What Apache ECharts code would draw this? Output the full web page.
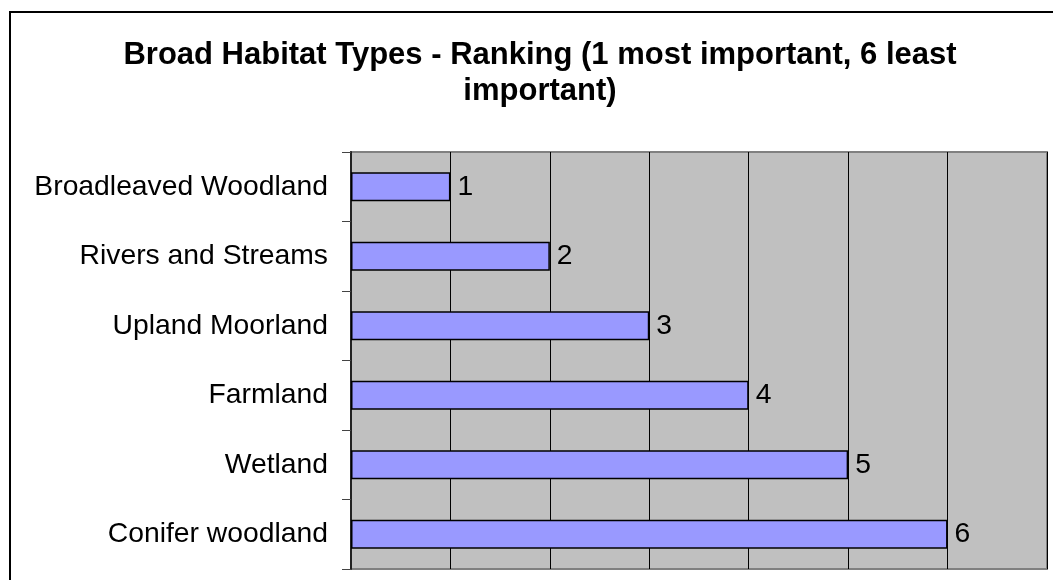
<!DOCTYPE html>
<html>
<head>
<meta charset="utf-8">
<script src="https://cdn.jsdelivr.net/npm/echarts@6/dist/echarts.min.js"></script>
<style>
  html, body { margin: 0; padding: 0; background: #fff; }
  #chart { width: 1053px; height: 580px; }
</style>
</head>
<body>
<div id="chart"></div>
<script>
var habitats = ['Broadleaved Woodland', 'Rivers and Streams', 'Upland Moorland', 'Farmland', 'Wetland', 'Conifer woodland'];
var ranks = [1, 2, 3, 4, 5, 6];

var chart = echarts.init(document.getElementById('chart'));

var option = {
    animation: false,
    title: {
        text: 'Broad Habitat Types - Ranking (1 most important, 6 least\nimportant)',
        left: 535,
        top: 32,
        textAlign: 'center',
        textStyle: {
            fontFamily: 'Liberation Sans',
            fontSize: 31,
            fontWeight: 'bold',
            color: '#000',
            lineHeight: 36
        }
    },
    graphic: [
        {
            type: 'rect',
            shape: { x: 10, y: 12, width: 1070, height: 600 },
            style: { fill: null, stroke: '#000', lineWidth: 2 },
            silent: true
        }
    ],
    grid: {
        left: 351,
        top: 152,
        right: 6,
        bottom: 11,
        show: true,
        backgroundColor: '#c0c0c0',
        borderColor: '#808080',
        borderWidth: 2
    },
    xAxis: {
        type: 'value',
        min: 0,
        max: 7,
        interval: 1,
        axisLine: { show: false },
        axisTick: { show: false },
        axisLabel: { show: false },
        splitLine: { show: true, lineStyle: { color: '#000', width: 1 } }
    },
    yAxis: {
        type: 'category',
        inverse: true,
        data: habitats,
        axisLine: { show: true, lineStyle: { color: '#222', width: 2 } },
        axisTick: { show: true, inside: false, length: 9, lineStyle: { color: '#444', width: 1 } },
        axisLabel: {
            margin: 23,
            fontFamily: 'Liberation Sans',
            fontSize: 28.3,
            color: '#000'
        }
    },
    series: [
        {
            type: 'bar',
            data: ranks,
            barWidth: 29,
            itemStyle: { color: '#9999ff', borderColor: '#000', borderWidth: 1.5 },
            label: {
                show: true,
                position: 'right',
                distance: 7,
                fontFamily: 'Liberation Sans',
                fontSize: 28.3,
                color: '#000'
            }
        }
    ]
};

chart.setOption(option);
</script>
</body>
</html>
